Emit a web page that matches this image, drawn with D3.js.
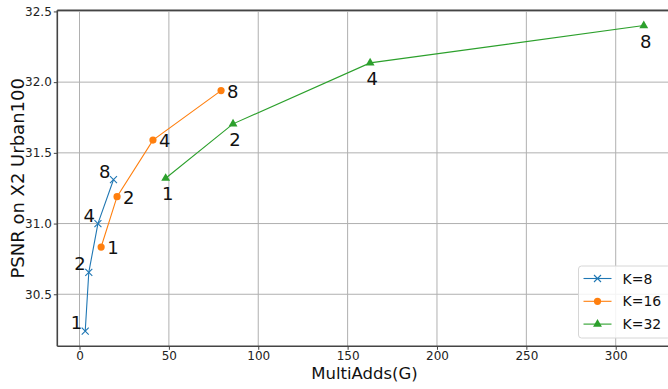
<!DOCTYPE html>
<html>
<head>
<meta charset="utf-8">
<script src="https://cdn.jsdelivr.net/npm/d3@7"></script>
<style>
  body { margin: 0; background: #fff; }
  svg { display: block; font-family: 'DejaVu Sans', sans-serif; }
</style>
</head>
<body>
<svg id="chart"></svg>
<script>
// values
const blockLabels = ['1', '2', '4', '8']
const seriesNames = ['K=8', 'K=16', 'K=32']
const multiAdds8 = [3.2, 5.2, 10.3, 19.0]
const psnr8 = [30.24, 30.655, 31.0, 31.31]
const multiAdds16 = [12.1, 21.0, 41.1, 79.2]
const psnr16 = [30.834, 31.19, 31.59, 31.94]
const multiAdds32 = [48.2, 85.9, 162.6, 315.7]
const psnr32 = [31.32, 31.705, 32.136, 32.40]
const xTicks = [0, 50, 100, 150, 200, 250, 300]
const yTicks = [30.5, 31.0, 31.5, 32.0, 32.5]

const width = 668
const height = 389
const margin = { top: 10.3, right: -3.7, bottom: 42.7, left: 57.3 }
const colors = ['#1f77b4', '#ff7f0e', '#2ca02c']
const markers = ['x', 'circle', 'triangle']
// label placement per series: [anchor, dx, dy]
const labelPos = [['end', -3, -2], ['start', 6, 7], ['middle', 2, 22]]

const series = [
  { name: seriesNames[0], xs: multiAdds8, ys: psnr8 },
  { name: seriesNames[1], xs: multiAdds16, ys: psnr16 },
  { name: seriesNames[2], xs: multiAdds32, ys: psnr32 }
].map((s, k) => ({
  ...s,
  pts: s.xs.map((x, i) => ({ x, y: s.ys[i], label: blockLabels[i] })),
  color: colors[k],
  marker: markers[k],
  pos: labelPos[k]
}))

// matplotlib-style 5% padding around the data
const pad = (ext) => { const d = (ext[1] - ext[0]) * 0.05; return [ext[0] - d, ext[1] + d] }
const allX = series.flatMap((s) => s.xs)
const allY = series.flatMap((s) => s.ys)

const x = d3.scaleLinear().domain(pad(d3.extent(allX))).range([margin.left, width - margin.right])
const y = d3.scaleLinear().domain(pad(d3.extent(allY))).range([height - margin.bottom, margin.top])

const svg = d3.select('#chart').attr('width', width).attr('height', height)

// grid
svg.append('g').selectAll('line').data(xTicks).join('line')
  .attr('x1', (d) => x(d)).attr('x2', (d) => x(d))
  .attr('y1', y.range()[0]).attr('y2', y.range()[1])
  .attr('stroke', '#b0b0b0').attr('stroke-width', 1)
svg.append('g').selectAll('line').data(yTicks).join('line')
  .attr('y1', (d) => y(d)).attr('y2', (d) => y(d))
  .attr('x1', x.range()[0]).attr('x2', x.range()[1])
  .attr('stroke', '#b0b0b0').attr('stroke-width', 1)

// axes
const xAxis = svg.append('g')
  .attr('transform', `translate(0,${y.range()[0]})`)
  .call(d3.axisBottom(x).tickValues(xTicks).tickSize(3.5).tickPadding(2).tickSizeOuter(0))
const yAxis = svg.append('g')
  .attr('transform', `translate(${x.range()[0]},0)`)
  .call(d3.axisLeft(y).tickValues(yTicks).tickFormat(d3.format('.1f')).tickSize(3.5).tickPadding(2).tickSizeOuter(0))
;[xAxis, yAxis].forEach((g) => {
  g.select('.domain').remove()
  g.selectAll('line').attr('stroke', '#444')
  g.selectAll('text').attr('font-size', 12).attr('fill', '#222').attr('font-family', 'DejaVu Sans')
})
// spines
svg.append('line').attr('x1', x.range()[0]).attr('x2', width).attr('y1', y.range()[0]).attr('y2', y.range()[0])
  .attr('stroke', '#444').attr('stroke-width', 1.6)
svg.append('line').attr('x1', x.range()[0]).attr('x2', width).attr('y1', y.range()[1]).attr('y2', y.range()[1])
  .attr('stroke', '#444').attr('stroke-width', 1.6)
svg.append('line').attr('x1', x.range()[0]).attr('x2', x.range()[0]).attr('y1', y.range()[0]).attr('y2', y.range()[1])
  .attr('stroke', '#444').attr('stroke-width', 1.6)

// axis titles
svg.append('text')
  .attr('x', (x.range()[0] + x.range()[1]) / 2).attr('y', 379)
  .attr('text-anchor', 'middle').attr('font-size', 16.5).attr('fill', '#111')
  .text('MultiAdds(G)')
svg.append('text')
  .attr('transform', `translate(24,${(y.range()[0] + y.range()[1]) / 2}) rotate(-90)`)
  .attr('text-anchor', 'middle').attr('font-size', 18).attr('fill', '#111')
  .text('PSNR on X2 Urban100')

function drawMarker(g, type, color) {
  if (type === 'x') {
    g.append('path').attr('d', 'M-3.5,-3.5L3.5,3.5M-3.5,3.5L3.5,-3.5')
      .attr('stroke', color).attr('stroke-width', 1.1).attr('fill', 'none')
  } else if (type === 'circle') {
    g.append('circle').attr('r', 3.6).attr('fill', color)
  } else {
    g.append('path').attr('d', d3.symbol(d3.symbolTriangle, 34)()).attr('fill', color)
  }
}

const line = d3.line().x((d) => x(d.x)).y((d) => y(d.y))

series.forEach((s) => {
  const g = svg.append('g')
  g.append('path').datum(s.pts).attr('d', line)
    .attr('fill', 'none').attr('stroke', s.color).attr('stroke-width', 1.1)
  g.selectAll('g.m').data(s.pts).join('g').attr('class', 'm')
    .attr('transform', (d) => `translate(${x(d.x)},${y(d.y)})`)
    .each(function () { drawMarker(d3.select(this), s.marker, s.color) })
  g.selectAll('text').data(s.pts).join('text')
    .attr('x', (d) => x(d.x) + s.pos[1]).attr('y', (d) => y(d.y) + s.pos[2])
    .attr('text-anchor', s.pos[0]).attr('font-size', 18).attr('fill', '#111')
    .text((d) => d.label)
})

// legend
const legend = svg.append('g').attr('transform', 'translate(578.5,266)')
legend.append('rect').attr('width', 92).attr('height', 72).attr('rx', 3)
  .attr('fill', '#fff').attr('fill-opacity', 0.85).attr('stroke', '#d6d6d6')
series.forEach((s, k) => {
  const row = legend.append('g').attr('transform', `translate(0,${12.5 + k * 22.8})`)
  row.append('line').attr('x1', 5).attr('x2', 33).attr('stroke', s.color).attr('stroke-width', 1.1)
  drawMarker(row.append('g').attr('transform', 'translate(19,0)'), s.marker, s.color)
  row.append('text').attr('x', 44).attr('y', 5).attr('font-size', 14).attr('fill', '#111').text(s.name)
})
</script>
</body>
</html>
